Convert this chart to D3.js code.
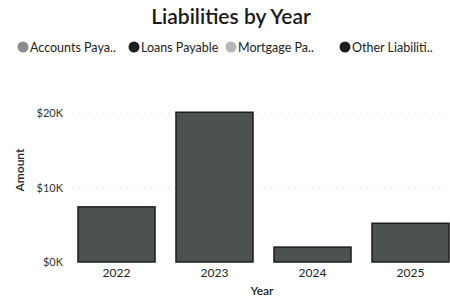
<!DOCTYPE html>
<html><head><meta charset="utf-8">
<script src="https://cdn.jsdelivr.net/npm/d3@7"></script>
<style>body{margin:0;background:#fff;} svg{display:block;}</style>
</head><body>
<svg id="c" width="450" height="298"></svg>
<script>
const years = ["2022","2023","2024","2025"];
const amounts = [7400, 20100, 2000, 5200];
const yTicks = [0, 10000, 20000];
const seriesNames = ["Accounts Paya..","Loans Payable","Mortgage Pa..","Other Liabiliti.."];
const seriesColors = ["#8a8d8d","#1e2020","#b4b6b6","#1c1e1e"];
const legendX = [23, 134, 231, 345];

const svg = d3.select("#c");
const font = "Lato, 'Noto Sans', sans-serif";

svg.append("text").attr("x", 231).attr("y", 24).attr("text-anchor","middle")
  .attr("font-family", font).attr("font-size", 21).attr("font-weight", 600)
  .attr("fill","#1a1a1a").text("Liabilities by Year");

const lg = svg.append("g");
seriesNames.forEach((n,i)=>{
  lg.append("circle").attr("cx", legendX[i]).attr("cy", 47).attr("r", 5.5).attr("fill", seriesColors[i]);
  lg.append("text").attr("x", legendX[i]+7).attr("y", 51.5).attr("font-family", font)
    .attr("font-size", 12.5).attr("fill","#222").text(n);
});

const x = d3.scaleBand().domain(years).range([67.5, 459.5]).paddingInner(0.214).paddingOuter(0.107);
const y = d3.scaleLinear().domain([0, 20000]).range([262, 113]);

const grid = svg.append("g");
grid.selectAll("line").data(yTicks.filter(d=>d>0)).join("line")
  .attr("x1", 72).attr("x2", 450).attr("y1", d=>y(d)).attr("y2", d=>y(d))
  .attr("stroke","#dcdcdc").attr("stroke-width",1).attr("stroke-dasharray","1,5");

const yAxis = d3.axisLeft(y).tickValues(yTicks).tickSize(0).tickPadding(0)
  .tickFormat(d => "$" + (d/1000) + "K");
const ya = svg.append("g").attr("transform","translate(63,0)").call(yAxis);
ya.select(".domain").remove();
ya.selectAll("text").attr("font-family", font).attr("font-size", 11).attr("fill","#333");

svg.append("g").selectAll("rect").data(years).join("rect")
  .attr("x", d=>x(d)).attr("width", x.bandwidth())
  .attr("y", (d,i)=>y(amounts[i])).attr("height", (d,i)=>y(0)-y(amounts[i]))
  .attr("fill","#4c5151").attr("stroke","#1c1e1e").attr("stroke-width",1.5);

const xAxis = d3.axisBottom(x).tickSize(0).tickPadding(0);
const xa = svg.append("g").attr("transform","translate(0,268)").call(xAxis);
xa.select(".domain").remove();
xa.selectAll("text").attr("font-family", font).attr("font-size", 12).attr("fill","#222");

svg.append("text").attr("x", 262).attr("y", 295).attr("text-anchor","middle")
  .attr("font-family", font).attr("font-size", 12).attr("font-weight", 600).attr("fill","#222").text("Year");
svg.append("text").attr("transform","translate(24,170) rotate(-90)").attr("text-anchor","middle")
  .attr("font-family", font).attr("font-size", 12).attr("font-weight", 600).attr("fill","#222").text("Amount");
</script>
</body></html>
